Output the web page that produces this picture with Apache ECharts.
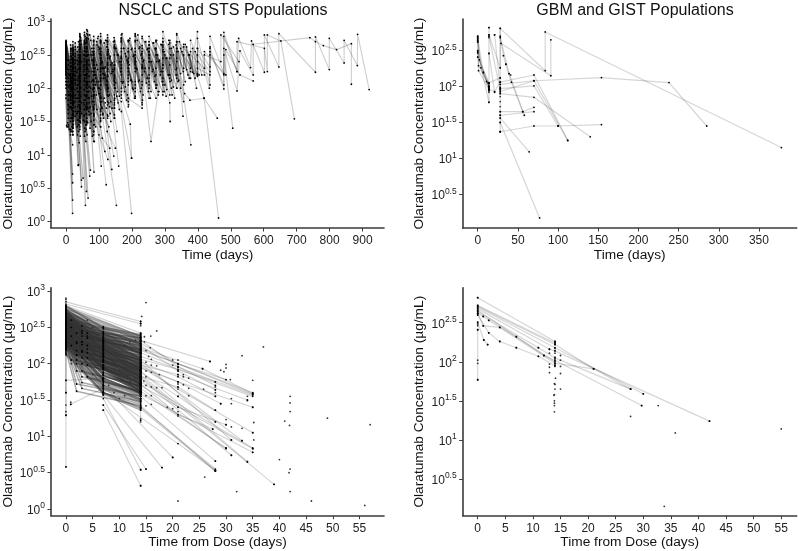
<!DOCTYPE html>
<html><head><meta charset="utf-8">
<style>html,body{margin:0;padding:0;background:#fff}#c{width:798px;height:551px}</style>
<script src="https://cdn.jsdelivr.net/npm/echarts@6/dist/echarts.min.js"></script></head><body><div id="c"></div>
<script>
// All tracks are flat lists: day, log10(concentration), day, log10(concentration)...
const nsclcLong=[
[0,2.68,21,2.1,21,2.6,42,2.2,42,2.72,63,2.3,63,2.82,84,2.35,105,2.78,126,2.3,126,2.8,168,2.2,168,2.76,210,2.25,210,2.8,252,2.2,252,2.7,294,2.1,294,2.85,336,2.2,336,2.82,378,2.3,399,2.85,399,2.3,437,2.2,437,2.78,479,2.22,479,2.84,519,2.25,524,2.75,560,2.31,563,2.71,602,2.24,602,2.8,646,2.32,646,2.82,757,2.24,757,2.77,799,2.28,799,2.75,844,2.38,844,2.72,884,2.34,885,2.81,920,1.98],
[0,2.6,14,2.05,21,1.95,21,2.5,42,2.1,42,2.62,63,2.15,63,2.7,105,2.2,105,2.72,147,2.15,147,2.65,189,2.1,189,2.7,231,2.2,231,2.6,273,2.05,273,2.72,315,2.2,315,2.68,357,2.05,357,2.66,399,2.22,399,2.6,435,2.0,437,2.6,479,1.99,479,2.6,519,1.96,528,2.56,568,2.2,568,2.66,740,2.76,757,2.7,781,2.64,821,2.58,866,2.67,866,2.06],
[0,2.55,21,1.9,21,2.45,42,2.0,42,2.6,84,2.0,84,2.65,126,2.1,126,2.55,168,2.0,168,2.6,210,1.95,210,2.55,252,2.0,252,2.6,294,1.9,294,2.65,336,2.0,336,2.6,378,2.15,378,2.55,419,1.85,459,1.55],
[0,2.7,21,2.25,21,2.65,42,2.3,42,2.78,63,2.35,63,2.75,84,2.38,84,2.7,126,2.25,126,2.62,168,2.3,168,2.7,210,2.35,210,2.72,252,2.3,252,2.65,294,2.25,294,2.7,336,2.3,336,2.7,378,2.25,378,2.72,420,2.2,420,2.55,485,2.2,485,2.58,528,2.2,568,2.11],
[0,2.5,21,1.8,21,2.35,42,1.85,42,2.45,63,1.9,63,2.5,105,1.8,105,2.45,147,1.75,147,2.4,189,1.8,189,2.45,231,1.75,231,2.35,273,1.85,273,2.5,315,1.9,315,2.45,357,1.8,357,2.5,399,2.18,399,2.6,437,2.32,437,2.5,479,2.2,479,2.5,506,1.4],
[0,2.65,21,2.15,21,2.55,63,2.05,63,2.62,105,2.1,105,2.6,147,2.05,147,2.62,189,2.15,189,2.6,231,2.1,231,2.64,273,2.2,273,2.6,315,1.78,316,1.5],
[0,2.58,21,2.05,21,2.5,42,1.95,42,2.55,84,1.85,84,2.5,126,1.9,126,2.5,168,1.85,168,2.45,210,2.05,210,2.6,252,2.1,252,2.55,294,2.05,294,2.55,336,2.15,336,2.6,399,2.2,399,2.75,437,2.05,437,2.55,479,2.05,479,2.78,519,2.25,519,2.7,602,2.6,611,2.25,611,2.8,652,2.71,693,1.54],
[0,2.45,21,1.75,21,2.3,42,1.8,42,2.4,63,1.75,63,2.38,105,1.65,105,2.3,147,1.7,147,2.35,189,1.85,231,1.7,231,2.3,258,1.2,280,1.95],
[0,2.62,21,2.12,21,2.58,42,2.18,42,2.66,84,2.2,84,2.72,126,2.18,126,2.72,168,2.25,168,2.8,210,2.3,210,2.82,252,2.4,252,2.78,294,2.3,294,2.75,336,2.45,336,2.8,355,1.58],
[0,2.52,21,1.92,21,2.42,42,2.02,42,2.5,63,2.1,63,2.55,105,2.05,105,2.55,147,2.1,147,2.6,189,2.05,189,2.55,231,2.05,231,2.55,273,2.0,273,2.6,315,2.15,315,2.6,360,1.92,376,1.82,419,1.85,463,0.05],
[0,2.48,21,1.85,21,2.38,42,1.92,42,2.48,84,1.95,84,2.55,126,2.0,126,2.5,168,2.1,168,2.55,210,2.0,210,2.5,252,2.15,252,2.55,294,2.35,294,2.7,336,2.0,336,2.55,379,1.15],
[0,2.66,21,2.2,21,2.62,42,2.25,42,2.7,63,2.25,63,2.72,105,2.25,105,2.7,147,2.3,147,2.7,189,2.25,189,2.72,231,2.32,231,2.75,273,2.3,273,2.7,315,2.35,315,2.72,357,2.3,357,2.62,399,2.2,399,2.5,437,2.25,437,2.62],
[0,2.4,21,1.7,21,2.25,42,1.75,42,2.35,63,1.7,63,2.3,105,1.6,105,2.25,147,1.55,147,2.2,195,1.46,199,0.95],
[0,2.56,14,1.95,21,1.85,21,2.45,42,1.9,42,2.5,63,1.95,63,2.48,84,2.0,84,2.55,105,2.05,105,2.5,126,2.02,126,2.52,168,1.95,168,2.48,210,1.85,210,2.4,231,1.78,231,2.3,252,1.85,252,2.4,294,1.95,294,2.45,320,2.0],
[0,2.64,21,2.18,21,2.6,42,2.28,42,2.8,84,2.42,84,2.78,126,2.38,126,2.76,168,2.45,168,2.75,210,2.42,210,2.78,252,2.45,252,2.6,294,2.35,294,2.62,336,2.4,336,2.7,399,2.4,420,2.3,420,2.5,470,2.4,470,2.8,525,2.4],
[0,2.5,21,2.0,21,2.52,42,2.12,42,2.62,63,2.18,63,2.68,84,2.25,84,2.6,105,2.3,105,2.7,126,2.35,126,2.7,147,2.35,147,2.72,168,2.35,168,2.7,189,2.4,189,2.72,210,2.45,210,2.7,231,2.45,231,2.78,252,2.5,252,2.65,275,2.4,275,2.72]
];
const nsclcMid=[
[0,2.7,21,1.9,21,2.4,42,1.55,42,2.3,63,1.5,63,2.2,84,1.3,84,2.0,107,0.83],
[0,2.55,21,1.6,21,2.3,42,1.5,42,2.2,63,1.45,63,2.1,100,1.3,127,0.93],
[0,2.62,21,1.7,21,2.28,42,1.62,42,2.25,84,1.35,84,2.05,122,0.55],
[0,2.6,21,2.0,42,1.8,42,2.4,84,1.7,84,2.3,126,1.55,126,2.18,160,0.83],
[0,2.45,21,1.75,21,2.35,63,1.6,63,2.32,105,1.5,105,2.2,139,0.78],
[0,2.68,21,2.0,42,1.95,42,2.5,63,1.9,84,1.7,84,2.4,153,0.24],
[0,2.58,21,1.95,42,1.85,42,2.45,84,1.9,84,2.45,126,1.75,126,2.35,168,1.65,199,0.12],
[0,2.52,21,1.88,21,2.42,42,1.88,42,2.38,63,1.85,63,2.35,105,1.75,105,2.38,147,1.55,147,2.28,199,0.95],
[0,2.6,14,2.0,21,1.85,21,2.42,42,1.82,42,2.42,63,1.78,63,2.42,105,1.85,105,2.42,147,1.78,147,2.35,189,1.72,189,2.3],
[0,2.5,21,1.95,21,2.5,42,2.0,42,2.55,63,2.0,63,2.62,84,2.05,84,2.6,126,2.05,126,2.58,168,1.9,168,2.4,190,1.75,200,2.1],
[0,2.42,21,1.78,21,2.36,42,1.72,42,2.3,63,1.68,63,2.28,84,1.6,84,2.2,105,1.52,105,2.15,125,1.35,150,1.1],
[0,2.65,21,2.15,21,2.58,42,2.1,42,2.6,63,2.08,63,2.58,105,2.15,105,2.6,147,2.18,147,2.62,189,2.2,189,2.55,210,2.1],
[0,2.35,21,1.62,21,2.15,42,1.58,42,2.15,63,1.55,63,2.1,84,1.45,84,2.0,110,1.25,133,1.1],
[0,2.55,14,1.9,21,1.8,21,2.35,42,1.75,42,2.35,84,1.68,84,2.3,126,1.6,126,2.25,155,1.35],
[0,2.72,21,2.22,21,2.7,42,2.3,42,2.82,63,2.38,63,2.88,105,2.45,105,2.82,126,2.5,126,2.7,168,2.45,168,2.72],
[0,2.58,21,2.08,21,2.56,42,2.15,42,2.66,63,2.22,63,2.76,84,2.25,84,2.72,105,2.28,105,2.72,126,2.28,126,2.66],
[0,2.3,21,1.65,42,1.55,42,2.1,63,1.48,63,2.05,86,1.2,86,1.9,118,1.05],
[0,2.48,21,1.8,21,2.32,42,1.7,42,2.28,63,1.68,63,2.22,105,1.42,105,2.05,145,0.98],
[0,2.62,21,2.08,21,2.55,42,2.05,42,2.58,63,2.0,63,2.55,84,2.0,84,2.5,126,1.95,126,2.45,148,1.85,168,1.8],
[0,2.4,21,1.92,21,2.4,42,1.98,42,2.45,63,2.08,63,2.5,84,2.12,84,2.52,105,2.12,105,2.55,147,2.05,147,2.5]
];
const nsclcShort=[
[0,2.3,7,1.42],[0,2.45,20,0.12],[0,2.5,20,0.32],[0,2.6,20,0.58],[0,2.38,20,0.71],[0,2.55,14,1.3,20,1.15],
[0,2.62,21,1.4,21,2.2,37,0.84],[0,2.58,21,1.5,21,2.35,47,0.52],[0,2.48,21,1.5,21,2.3,47,0.62],[0,2.66,21,1.55,21,2.28,52,0.65],
[0,2.5,21,1.45,42,1.5,42,2.4,59,0.24],[0,2.7,21,1.6,42,1.6,42,2.5,62,0.45],[0,2.42,21,1.55,42,1.42,42,2.3,67,0.35],
[0,2.6,42,1.65,42,2.42,74,0.77],[0,2.52,42,1.6,42,2.32,72,0.68],[0,2.58,42,1.7,63,1.5,63,2.4,85,0.74],[0,2.4,21,1.65,21,2.3,38,0.85],
[0,2.2,7,1.75,14,1.5,21,1.3],[0,2.1,7,1.45,14,1.35,21,1.4],[0,2.0,2,1.44,10,1.38],[0,1.9,5,1.48,18,1.35],[0,1.85,3,1.42,14,1.38],
[42,2.6,63,2.1,84,1.95],[42,2.55,63,2.05,84,1.88],[42,2.48,63,1.95,84,1.8],[42,2.4,63,1.88,84,1.72],[42,2.3,63,1.78,84,1.62],[42,2.2,63,1.7,84,1.52],[63,2.6,84,2.1,105,1.98],[63,2.5,84,2.0,105,1.88],[63,2.4,84,1.9,105,1.78],[63,2.3,84,1.8,105,1.68],[63,2.2,84,1.68,105,1.55],[63,2.1,84,1.58,105,1.42],
[105,2.68,126,2.2,147,2.0],[105,2.55,126,2.1,147,1.9],[105,2.45,126,2.0,147,1.82],[105,2.35,126,1.9,147,1.7],[105,2.25,126,1.8,147,1.6]
];
const nsclcEarly=[
[0,2.68,18,2.1,18,2.6,38,2.15,38,2.7,58,2.2,58,2.78,79,2.25],[0,2.66,15,2.15,15,2.58,36,2.05,36,2.62,56,2.1,56,2.7,77,2.1],[0,2.64,20,2.02,20,2.52,41,2.08,41,2.66,61,2.02,61,2.74,81,2.12],[0,2.62,22,1.98,22,2.6,44,2.0,44,2.76,65,2.05,65,2.86,88,2.2],
[0,2.6,16,2.08,16,2.48,35,1.95,35,2.55,55,1.98,55,2.66,75,2.0],[0,2.58,19,1.95,19,2.46,40,1.9,40,2.58,60,1.88,60,2.68,82,1.98],[0,2.56,23,1.88,23,2.42,45,1.88,45,2.72,66,1.95,66,2.8,90,2.05],[0,2.55,17,2.0,17,2.44,37,1.85,37,2.5,57,1.9,57,2.6,78,1.88],
[0,2.54,20,1.85,20,2.4,39,1.8,39,2.46,59,1.82,59,2.55,80,1.8],[0,2.52,24,1.78,24,2.36,46,1.78,46,2.66,68,1.85,68,2.74,92,1.9],[0,2.5,14,2.02,14,2.38,34,1.85,34,2.42,54,1.78,54,2.5,74,1.72],[0,2.5,18,1.88,18,2.32,38,1.75,38,2.4,60,1.72,60,2.48,83,1.72],
[0,2.48,21,1.78,21,2.3,43,1.68,43,2.38,64,1.72,64,2.6,86,1.75],[0,2.47,15,1.98,15,2.34,36,1.72,36,2.36,56,1.68,56,2.4,76,1.62],[0,2.45,19,1.78,19,2.28,40,1.65,40,2.3,62,1.62,62,2.42,85,1.6],[0,2.44,23,1.7,23,2.22,47,1.62,47,2.4,69,1.65,69,2.5,94,1.68],
[0,2.42,16,1.88,16,2.25,35,1.65,35,2.28,55,1.58,55,2.32,76,1.5],[0,2.4,20,1.7,20,2.2,41,1.55,41,2.22,63,1.55,63,2.3,86,1.45],[0,2.38,14,1.85,14,2.2,33,1.62,33,2.24,53,1.52,53,2.25,73,1.4],[0,2.36,18,1.68,18,2.16,38,1.52,38,2.18,60,1.45,60,2.2,84,1.35],
[0,2.34,22,1.58,22,2.12,44,1.48,44,2.2,66,1.48,66,2.28,90,1.42],[0,2.32,15,1.78,15,2.12,35,1.52,35,2.12,57,1.4,57,2.15,80,1.28],[0,2.3,19,1.6,19,2.08,40,1.45,40,2.1,61,1.38,61,2.1,84,1.2],[0,2.28,16,1.72,16,2.05,37,1.45,37,2.05,58,1.35],
[0,2.25,20,1.55,20,2.02,42,1.38,42,2.02,64,1.3],[0,2.22,14,1.7,14,2.0,34,1.42,34,2.0,56,1.28],[0,2.2,17,1.55,17,1.98,38,1.35,38,1.95,60,1.2],[0,2.15,21,1.42,21,1.9,43,1.28],[0,2.1,15,1.55,15,1.88,35,1.3],[0,2.05,18,1.42,18,1.82,40,1.18],
[0,2.7,14,2.28,14,2.65,28,2.3,28,2.68,42,2.28,42,2.78,56,2.35,56,2.84,70,2.42],[0,2.68,14,2.22,14,2.6,28,2.25,28,2.62,42,2.2,42,2.72,56,2.28,56,2.8,70,2.35],[0,2.66,14,2.18,14,2.56,28,2.18,28,2.58,42,2.12,42,2.65,56,2.2,56,2.72,70,2.25],[0,2.64,14,2.12,14,2.52,28,2.12,28,2.52,42,2.08,42,2.6,56,2.12,56,2.68,70,2.18],
[0,2.62,14,2.08,14,2.48,28,2.05,28,2.48,42,2.02,42,2.55,56,2.05,56,2.62,70,2.1],[0,2.6,14,2.02,14,2.42,28,1.98,28,2.42,42,1.95,42,2.5,56,1.98,56,2.56,70,2.02],[0,2.58,14,1.98,14,2.38,28,1.9,28,2.38,42,1.88,42,2.44,56,1.9,56,2.5,70,1.95],[0,2.56,14,1.92,14,2.32,28,1.85,28,2.32,42,1.8,42,2.38,56,1.82,56,2.44,70,1.85],
[0,2.54,14,1.88,14,2.28,28,1.8,28,2.26,42,1.72,42,2.3,56,1.75,56,2.35,70,1.78],[0,2.52,14,1.82,14,2.22,28,1.72,28,2.2,42,1.65,42,2.25,56,1.68,56,2.28,70,1.7],[0,2.5,14,1.78,14,2.15,28,1.65,28,2.14,42,1.58,42,2.18,56,1.6,56,2.2,70,1.6],[0,2.46,14,1.72,14,2.1,28,1.58,28,2.08,42,1.5,42,2.1,56,1.5],
[0,2.7,7,2.42,21,2.15],[0,2.67,7,2.35,21,2.05],[0,2.63,7,2.28,21,1.98],[0,2.6,7,2.22,21,1.9],[0,2.57,7,2.15,21,1.82],[0,2.53,7,2.1,21,1.74],[0,2.5,7,2.02,21,1.66],[0,2.46,7,1.95,21,1.6],[0,2.43,7,1.9,21,1.52],[0,2.4,7,1.82,21,1.46],[0,2.36,7,1.75,21,1.4],[0,2.33,7,1.68,21,1.35],[0,2.28,7,1.62,21,1.3],[0,2.24,7,1.55],[0,2.65,3,2.42,10,2.2,21,2.0],[0,2.55,3,2.3,10,2.05,21,1.8],[0,2.45,3,2.18,10,1.9,21,1.62],[0,2.35,3,2.05,10,1.72,21,1.45]
];
const nsclcLate=[
[72,2.8,93,2.35,93,2.7,114,2.22],[75,2.72,96,2.28,96,2.75,118,2.3],[78,2.6,99,2.1,99,2.62,120,2.15],[80,2.55,101,2.0,101,2.58,122,2.05],[82,2.5,103,1.92,103,2.52,125,1.98],[84,2.42,106,1.85,106,2.45,128,1.88],[86,2.35,108,1.8,108,2.38,130,1.78],[88,2.3,110,1.7,110,2.3,132,1.72],[90,2.2,112,1.6,112,2.22,134,1.62],[92,2.1,114,1.55,114,2.15,136,1.5],
[76,2.5,98,2.0,116,1.85],[79,2.42,100,1.92,119,1.78],[83,2.35,104,1.85,123,1.7],[86,2.25,108,1.72,127,1.58],[90,2.15,112,1.62,130,1.42],[94,2.65,116,2.2,116,2.68,138,2.22],[98,2.78,120,2.32,120,2.72,142,2.28],[102,2.6,124,2.12,124,2.62,146,2.12],[106,2.5,128,2.0,128,2.55,150,2.0],[110,2.4,132,1.9,132,2.45,154,1.88],
[114,2.3,136,1.8,136,2.35,158,1.78],[118,2.2,140,1.7,140,2.25,162,1.68],[122,2.72,144,2.25,144,2.7,166,2.25],[128,2.58,150,2.08,150,2.6,172,2.08],[134,2.48,156,1.95,156,2.5,178,1.95],[140,2.38,162,1.88,162,2.4,184,1.82],[146,2.76,168,2.3,168,2.74,190,2.3],[152,2.6,174,2.1,174,2.6,196,2.12],[158,2.5,180,2.02,180,2.52,202,2.0],[164,2.4,186,1.9,186,2.42,208,1.85],
[170,2.82,192,2.35,192,2.72,214,2.3],[176,2.6,198,2.12,198,2.58,220,2.1],[182,2.48,204,1.98,204,2.48,226,1.95],[188,2.38,210,1.88,210,2.38,232,1.82],[194,2.75,216,2.28,216,2.72,238,2.25],[200,2.6,222,2.12,222,2.6,244,2.08],[206,2.5,228,2.0,228,2.5,250,1.95],[212,2.4,234,1.9,234,2.4,256,1.85],[218,2.8,240,2.3,240,2.7,262,2.25],[224,2.62,246,2.15,246,2.58,268,2.1],
[230,2.52,252,2.05,252,2.5,274,2.0],[236,2.42,258,1.95,258,2.4,280,1.9],[242,2.7,264,2.28,264,2.68,286,2.2],[248,2.6,270,2.18,270,2.6,292,2.1],[254,2.5,276,2.05,276,2.5,298,1.95],[260,2.4,282,1.95,282,2.4,304,1.88],[266,2.68,288,2.25,288,2.66,310,2.2],[272,2.58,294,2.15,294,2.58,316,2.1],[278,2.5,300,2.05,300,2.5,322,1.9],[284,2.42,306,1.98,306,2.45,330,1.85],
[290,2.65,312,2.2,312,2.66,334,2.2],[298,2.55,320,2.12,320,2.6,342,2.12],[304,2.45,326,2.02,326,2.5,348,2.0],[312,2.72,334,2.28,334,2.65,356,2.25],[318,2.5,340,2.1,340,2.55,362,2.1],[326,2.62,348,2.22,348,2.6,370,2.2],[344,2.7,366,2.28,366,2.62,388,2.22],[352,2.55,374,2.15,374,2.5,396,2.0],[362,2.66,384,2.24,384,2.6,404,2.2],[372,2.5,392,2.15,392,2.55,412,2.2]
];
const gbmTracks=[
[0,2.66,7,2.19,14,1.99],[0,2.7,4,2.26,11,2.07,14,1.94],[0,2.68,2,2.37,13,2.05,14,1.97],[0,2.64,1,2.29,14,2.02],[0,2.62,1,2.22,14,1.96],[0,2.5,7,2.2,14,2.0],[0,2.48,14,1.78],[0,2.41,14,2.05],
[14,2.82,14,1.78],[14,2.72,28,2.26,28,2.81,84,2.22,84,2.76,378,1.15],[14,2.7,28,1.95],[14,2.46,21,1.92],[21,2.72,28,1.98],[14,2.05,28,2.12],[14,1.96,21,1.93,28,2.06],
[28,2.81,28,1.37],[29,2.6,91,2.15,91,2.65],[28,2.7,32,2.43,35,2.31,42,2.06,56,1.65],[28,2.68,39,2.18,58,1.6],
[28,1.37,70,1.45,100,1.45,154,1.47],[28,2.03,70,2.08,154,2.125,238,2.055,285,1.45],[28,2.06,70,2.16,112,1.25],[28,1.93,70,2.08,112,1.25],[28,1.97,70,2.01,100,1.45],[28,1.9,70,1.85,140,1.3],[28,1.65,56,1.65,70,1.71],[28,1.6,70,1.65],[28,1.56,64,1.09],[28,1.5,77,0.17]
];
const gbmPoints=[0,2.7,0,2.68,0,2.66,0,2.64,0,2.62,0,2.5,0,2.48,0,2.46,0,2.41,14,2.82,14,2.72,14,2.68,14,2.46,14,2.05,14,1.99,14,1.95,14,1.92,21,2.72,28,2.26,28,2.12,28,2.06,28,1.99,28,1.96,28,1.91,28,1.86,28,1.79,28,1.72,28,1.65,28,1.6,28,1.56,28,1.5,28,1.37,41,2.16,35,2.31,39,2.18];
const nsclcDoseTracks=[
[0,2.85,14,2.58],[0,2.82,14,2.55],[0,2.8,14,2.42],[0,2.78,7,2.5,14,2.4],[0,2.76,14,2.38],[0,2.7,7,2.42,14,2.32,27,2.03],
[0,2.62,14,2.2,35,1.6],[0,2.6,7,2.3,14,2.18,21,2.0,35,1.58],[0,2.54,14,2.06,21,1.92,35,1.55],[0,2.48,7,2.12,14,1.98,21,1.85,34,1.5],[0,2.45,14,1.94,21,1.75,35,1.4],[0,2.36,7,1.98,14,1.82,21,1.68,28,1.36],
[7,1.36,14,0.32],[7,1.43,15,0.55],[7,1.52,14,0.54],[7,1.57,18,0.57],[7,1.7,20,0.71],[0,2.25,7,1.62,21,0.9,28,0.53],[14,1.38,28,0.53],[14,1.4,28,0.55],[14,1.42,28,0.52],[14,1.55,28,0.66],[14,1.58,35,0.78],[14,1.7,35,0.83],[14,1.75,35,0.84],[14,1.85,39,0.34],[14,1.8,31,0.74],[14,1.9,34,0.65],[14,1.62,30,0.84],[14,1.66,30,0.83],
[14,1.95,35,1.05],[14,2.0,33,0.94],[14,2.05,31,0.95],[14,2.22,25.6,1.93,35,1.59],[14,2.15,21,1.95,35,1.57],[14,2.1,28,1.75],[14,2.02,21,1.82,28,1.55],[14,1.96,21,1.75,29,1.45],[14,1.88,21,1.55,28,1.2],[14,1.82,21,1.4,30,1.16],[14,1.72,21,1.3,27.5,1.1],[14,2.28,21,2.0,30,1.78],[14,2.32,21,1.96,28,1.7],[14,2.25,21,1.9,28,1.64],
[0,1.77,7,1.8],[0.9,1.44,7,1.66],[0,0.58,0,2.2],[0,1.29,0,2.3],[0,1.6,0,2.5],[7,1.57,7,2.51],[14,1.52,14,2.42],[14,1.22,14,1.9]
];
// Dense fan of the lower-left panel: value at day 0, at the middle sample, at day 14, and the middle sample's day.
const fanStart=[2.8,2.78,2.76,2.75,2.74,2.73,2.72,2.71,2.7,2.7,2.69,2.68,2.68,2.67,2.66,2.66,2.65,2.65,2.64,2.63,2.63,2.62,2.62,2.61,2.6,2.6,2.6,2.59,2.58,2.58,2.57,2.57,2.56,2.56,2.55,2.55,2.54,2.54,2.53,2.53,2.52,2.52,2.51,2.5,2.5,2.5,2.49,2.48,2.48,2.47,2.47,2.46,2.46,2.45,2.45,2.44,2.44,2.43,2.42,2.42,2.41,2.4,2.4,2.39,2.38,2.38,2.37,2.36,2.36,2.35,2.35,2.34,2.33,2.32,2.32,2.31,2.3,2.3,2.29,2.28,2.28,2.27,2.26,2.25,2.24,2.23,2.22,2.2,2.2,2.18,2.16,2.14,2.12,2.3,2.45,2.55,2.65,2.72,2.6,2.5,2.4,2.35,2.28,2.42,2.52,2.62,2.7,2.58,2.48,2.38];
const fanMid=[2.5,2.48,2.45,2.44,2.42,2.42,2.4,2.38,2.38,2.36,2.36,2.34,2.35,2.32,2.32,2.3,2.32,2.28,2.3,2.28,2.26,2.28,2.24,2.26,2.25,2.22,2.2,2.22,2.2,2.18,2.2,2.16,2.18,2.14,2.16,2.12,2.14,2.1,2.12,2.08,2.1,2.06,2.08,2.08,2.05,2.02,2.04,2.04,2.0,2.02,1.98,2.0,1.96,1.98,1.94,1.98,1.92,1.95,1.94,1.9,1.92,1.92,1.88,1.9,1.88,1.84,1.86,1.85,1.82,1.84,1.8,1.82,1.8,1.8,1.76,1.78,1.78,1.74,1.76,1.74,1.7,1.72,1.72,1.7,1.68,1.66,1.66,1.64,1.6,1.62,1.6,1.6,1.58,2.05,2.25,2.38,2.5,2.6,2.42,2.3,2.18,2.12,2.05,2.18,2.3,2.42,2.52,2.38,2.25,2.15];
const fanEnd=[2.4,2.38,2.36,2.34,2.32,2.3,2.3,2.28,2.26,2.24,2.24,2.22,2.2,2.2,2.18,2.16,2.16,2.14,2.14,2.12,2.1,2.1,2.08,2.06,2.08,2.05,2.02,2.04,2.02,2.0,2.0,1.98,1.98,1.95,1.96,1.93,1.94,1.9,1.92,1.88,1.9,1.86,1.88,1.9,1.85,1.82,1.85,1.84,1.8,1.82,1.78,1.8,1.76,1.78,1.74,1.76,1.72,1.74,1.74,1.7,1.72,1.72,1.68,1.7,1.68,1.64,1.68,1.66,1.62,1.64,1.6,1.62,1.6,1.6,1.58,1.58,1.6,1.55,1.56,1.55,1.52,1.55,1.52,1.5,1.5,1.48,1.48,1.46,1.44,1.42,1.4,1.38,1.36,1.85,2.05,2.18,2.28,2.35,2.18,2.05,1.95,1.9,1.82,1.96,2.08,2.2,2.3,2.15,2.0,1.92];
const fanMidDay=[7,7,3,7,7,4,7,7,3,7,7,7,4,7,7,3,7,7,7,2,7,7,7,3,7,7,7,7,4,7,7,3,7,7,7,2,7,7,7,4,7,7,7,3,7,7,7,7,2,7,7,3,7,7,7,4,7,7,7,3,7,7,7,2,7,7,7,7,4,7,7,3,7,7,7,7,7,3,7,7,7,2,7,7,7,3,7,7,7,2,7,7,7,1,1,1,1,1,2,2,2,2,2,3,3,3,3,4,4,4];
// Second, direct day 0 -> day 14 lines of the same fan.
const directStart=[2.78,2.75,2.72,2.7,2.7,2.68,2.66,2.65,2.64,2.63,2.62,2.62,2.6,2.6,2.59,2.58,2.58,2.57,2.56,2.55,2.55,2.54,2.53,2.52,2.52,2.51,2.5,2.5,2.49,2.48,2.47,2.46,2.46,2.45,2.44,2.43,2.42,2.42,2.41,2.4,2.39,2.38,2.38,2.37,2.36,2.35,2.34,2.33,2.32,2.31,2.3,2.28,2.27,2.26,2.25,2.24,2.22,2.2,2.66,2.61,2.56,2.51,2.47,2.43,2.37,2.33,2.29,2.74,2.69,2.62,2.57,2.53,2.49,2.44,2.4,2.35,2.31,2.27,2.64,2.55,2.48,2.42,2.36,2.3];
const directEnd=[2.38,2.36,2.34,2.32,2.28,2.26,2.26,2.24,2.22,2.2,2.2,2.16,2.18,2.14,2.12,2.14,2.1,2.08,2.06,2.08,2.04,2.02,2.0,2.02,1.98,1.96,1.98,1.94,1.92,1.9,1.92,1.9,1.86,1.88,1.84,1.82,1.86,1.8,1.8,1.82,1.78,1.8,1.76,1.76,1.74,1.76,1.72,1.72,1.72,1.68,1.7,1.66,1.66,1.64,1.62,1.62,1.6,1.58,2.02,1.95,1.88,1.82,1.78,1.72,1.68,1.62,1.6,2.12,2.05,1.98,1.92,1.86,1.82,1.76,1.7,1.66,1.62,1.58,1.9,1.85,1.76,1.7,1.65,1.62];
const nsclcDosePoints=[15,2.84,14.2,2.65,14,2.55,14,2.58,14,2.52,17,2.45,15.9,2.38,14.7,2.37,14.7,2.3,15.8,2.22,37,2.23,33,2.11,27,2.03,21,2.05,20,2.05,25.6,1.93,30,1.99,30,1.94,29,1.91,29.6,1.89,30.8,1.78,28,1.75,28,1.68,28,1.64,28,1.6,28,1.55,35,1.77,25.8,1.65,23,1.56,23,1.66,23,1.8,22,1.82,22,1.71,21,1.55,34,1.55,34,1.49,35,1.59,35,1.4,31,1.52,31,1.45,29,1.45,28,1.36,21,1.34,21,1.28,19,1.4,20,1.38,28,1.2,30,1.23,30,1.16,31,1.13,27.5,1.1,33,1.11,35.2,1.19,35,1.05,31,0.95,33,0.94,35.2,0.95,35,0.83,35,0.78,30,0.84,31,0.74,34,0.65,28,0.66,28,0.53,26,0.44,20,0.71,18,0.57,15,0.55,14,0.54,14,0.32,0,0.58,39,0.34,32,0.24,21,0.11,40,0.68,41.8,0.5,42,0.55,42,0.24,46,0.11,56,0.05,41,1.21,41.9,1.15,42,1.34,42,1.46,42,1.55,49,1.25,57,1.16,
15,2.18,15.5,2.1,16,2.06,15,2.02,16,1.98,17,1.97,15,1.9,16,1.88,17.5,1.85,15,1.82,14.6,1.76,15,1.7,16,1.68,17,1.67,18,1.67,15,1.56,16,1.56,15,1.42,16,1.44,14,1.24,14,1.2,21,1.99,21,1.96,21,1.9,21,1.85,22,1.85,20,1.98,21,1.72,21,1.68,21,1.65,0,1.43,0,1.34,0,1.29,0,1.6,0,1.77,0.9,1.44,0.9,1.47,7,1.43,7,1.36,0,2.88,0,2.9,1,2.0,5,1.85,8,1.7,9,1.6,10,1.52,11,1.56,12,1.75,13,1.8,11,2.25,12,2.3,13,2.32,8,2.2,9,2.0,10,1.9,5,2.5,6,2.4,4,2.6];
const gbmDoseTracks=[
[0,2.82,14,2.26],[0,2.72,14,2.24],[0,2.71,14,2.22,21,1.91,27.7,1.65],[0,2.7,14,2.18,30,1.59],[0,2.68,13,2.16,14,2.14,42,1.24],[0,2.66,12,2.08,14,2.02,29.7,1.44],[0,2.64,11,2.18,14,2.05,27.7,1.65],[0,2.62,1,2.58,2,2.53,7,2.32,14,2.0],[0,2.62,1,2.46,4,2.44,14,1.98,21,1.91],[0,2.6,2,2.37,4,2.26,7,2.18,11,2.07,14,1.95],[0,2.5,1.1,2.28,1.8,2.22],[0,2.41,0,1.77]
];
const gbmDosePoints=[0,2.82,0,2.72,0,2.7,0,2.68,0,2.66,0,2.64,0,2.62,0,2.6,0,2.51,0,2.48,0,2.46,0,2.41,0,2.02,0,1.98,0,1.77,1,2.58,1,2.46,1.1,2.28,1.8,2.22,2,2.53,2,2.37,4,2.44,4,2.26,7,2.32,7,2.18,11,2.18,11,2.07,12,2.08,13,2.16,13,2.11,13,1.97,13,1.93,13,1.86,14,2.26,14,2.24,14,2.22,14,2.17,14,2.14,14,2.11,14,2.06,14,2.04,14,1.98,14,1.96,14,1.94,14.1,1.79,13.9,1.72,14,1.71,14,1.65,13.8,1.57,13.9,1.58,13.9,1.5,13.9,1.47,13.9,1.44,13.9,1.36,15,2.08,15,2.02,15,1.94,15,1.85,15,1.65,21,1.91,27.7,1.65,27.7,1.3,29.7,1.44,30,1.59,32.7,1.44,33.8,0.15,35.8,1.09,42,1.24,55,1.14];
const timeTicksA=[0,100,200,300,400,500,600,700,800,900];
const timeTicksB=[0,50,100,150,200,250,300,350];
const doseTicks=[0,5,10,15,20,25,30,35,40,45,50,55];
const logTicksFull=[0,0.5,1,1.5,2,2.5,3];
const logTicksTrim=[0.5,1,1.5,2,2.5];

const FONT='"Liberation Sans",Arial,sans-serif';
const fanTracks=fanStart.map((s,i)=>[0,s,fanMidDay[i],fanMid[i],14,fanEnd[i]]);
const directTracks=directStart.map((s,i)=>[0,s,14,directEnd[i]]);
const fam=(list,a,w)=>({list,a,w});
const panels=[
 {g:{left:51,top:19,width:333,height:209},x:[-45.5,965],y:[-0.1,3.04],xt:timeTicksA,yt:logTicksFull,xn:'Time (days)',fams:[fam(nsclcLong,0.24,1.1),fam(nsclcMid,0.24,1.1),fam(nsclcShort,0.34,1.2),fam(nsclcEarly,0.46,1.3),fam(nsclcLate,0.34,1.2)],pts:[]},
 {g:{left:462.7,top:19,width:334,height:209},x:[-18.7,397],y:[0.03,2.94],xt:timeTicksB,yt:logTicksTrim,xn:'Time (days)',fams:[fam(gbmTracks,0.2,1.2)],pts:gbmPoints},
 {g:{left:51,top:287.7,width:333,height:228},x:[-2.8,59.6],y:[-0.092,3.045],xt:doseTicks,yt:logTicksFull,xn:'Time from Dose (days)',fams:[fam(nsclcDoseTracks,0.22,1.1),fam(fanTracks,0.42,1.4),fam(directTracks,0.42,1.4)],pts:nsclcDosePoints},
 {g:{left:462.7,top:287.7,width:334,height:228},x:[-2.72,57.8],y:[0.03,2.948],xt:doseTicks,yt:logTicksTrim,xn:'Time from Dose (days)',fams:[fam(gbmDoseTracks,0.2,1.2)],pts:gbmDosePoints}
];
const pairs=f=>{const o=[];for(let i=0;i<f.length;i+=2)o.push([f[i],f[i+1]]);return o;};
const axisLine={show:true,onZero:false,lineStyle:{color:'#3a3a3a',width:1.6}};
const axisTick={show:true,length:3.5,inside:false,lineStyle:{color:'#3a3a3a',width:1}};
const grid=[],xAxis=[],yAxis=[],series=[];
panels.forEach((p,i)=>{
 grid.push(p.g);
 xAxis.push({type:'value',gridIndex:i,min:p.x[0],max:p.x[1],splitLine:{show:false},axisLine,
  axisTick:{...axisTick,customValues:p.xt},
  axisLabel:{customValues:p.xt,color:'#222',fontFamily:FONT,fontSize:12,margin:7,showMinLabel:true,showMaxLabel:true,hideOverlap:false},
  name:p.xn,nameLocation:'middle',nameGap:19,nameTextStyle:{color:'#111',fontFamily:FONT,fontSize:13.7}});
 yAxis.push({type:'value',gridIndex:i,min:p.y[0],max:p.y[1],splitLine:{show:false},axisLine,
  axisTick:{...axisTick,customValues:p.yt},
  axisLabel:{customValues:p.yt,margin:6,hideOverlap:false,formatter:v=>`{b|10}{s|${v}}`,
   rich:{b:{fontFamily:FONT,fontSize:12,color:'#222',verticalAlign:'bottom',lineHeight:15},s:{fontFamily:FONT,fontSize:8.5,color:'#222',verticalAlign:'top',lineHeight:15}}},
  name:'Olaratumab Concentration (µg/mL)',nameLocation:'middle',nameGap:36,nameRotate:90,nameTextStyle:{color:'#111',fontFamily:FONT,fontSize:13.7}});
 p.fams.forEach(f=>f.list.forEach(t=>series.push({type:'line',xAxisIndex:i,yAxisIndex:i,data:pairs(t),silent:true,animation:false,showSymbol:true,showAllSymbol:true,symbol:'circle',symbolSize:1.8,
   itemStyle:{color:'#000'},lineStyle:{color:`rgba(50,50,50,${f.a})`,width:f.w},clip:false})));
 if(p.pts.length)series.push({type:'scatter',xAxisIndex:i,yAxisIndex:i,data:pairs(p.pts),silent:true,animation:false,symbol:'circle',symbolSize:1.8,itemStyle:{color:'#000'},clip:false});
});
const chart=echarts.init(document.getElementById('c'),null,{renderer:'canvas'});
chart.setOption({backgroundColor:'#fff',animation:false,
 title:[
  {text:'NSCLC and STS Populations',left:218,top:-2,textAlign:'center',textStyle:{fontFamily:FONT,fontSize:16,fontWeight:'normal',color:'#111'}},
  {text:'GBM and GIST Populations',left:630,top:-2,textAlign:'center',textStyle:{fontFamily:FONT,fontSize:16,fontWeight:'normal',color:'#111'}}],
 grid,xAxis,yAxis,series});
</script></body></html>
